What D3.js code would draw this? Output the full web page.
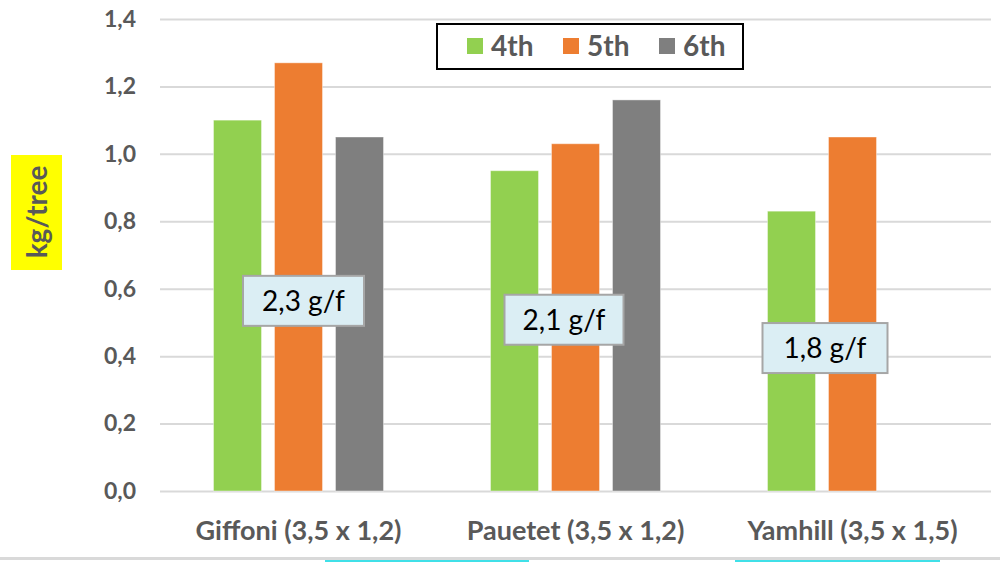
<!DOCTYPE html>
<html>
<head>
<meta charset="utf-8">
<script src="https://cdn.jsdelivr.net/npm/d3@7"></script>
<style>
  body { margin: 0; background: #fff; overflow: hidden; }
  svg { display: block; }
  text { font-family: Lato, "Open Sans", sans-serif; }
</style>
</head>
<body>
<svg id="chart"></svg>
<script>
// data
const categories = ["Giffoni (3,5 x 1,2)", "Pauetet (3,5 x 1,2)", "Yamhill (3,5 x 1,5)"];
const seriesNames = ["4th", "5th", "6th"];
const values4th = [1.10, 0.95, 0.83];
const values5th = [1.27, 1.03, 1.05];
const values6th = [1.05, 1.16, null];
const yTicks = [0, 0.2, 0.4, 0.6, 0.8, 1.0, 1.2, 1.4];
const noteLabels = ["2,3 g/f", "2,1 g/f", "1,8 g/f"];

const colors = { "4th": "#92d050", "5th": "#ed7d31", "6th": "#7f7f7f" };
const width = 1000;
const height = 562;

// where the note boxes sit: x offset from the group centre, y as a value
const noteLayout = [
    { dx: 5, v: 0.564, w: 121 },
    { dx: -11.5, v: 0.508, w: 119 },
    { dx: -27.5, v: 0.424, w: 125 }
];

const svg = d3.select('#chart')
    .attr('width', width).attr('height', height);

const x0 = d3.scaleBand().domain(categories).range([160, 991]).padding(0);
const x1 = d3.scaleBand().domain(seriesNames).range([-85, 85]).paddingInner(13 / 61);
const y = d3.scaleLinear().domain([0, 1.4]).range([491, 19]);

const fmt = v => d3.format('.1f')(v).replace('.', ',');

// gridlines + tick labels
const yAxis = d3.axisLeft(y)
    .tickValues(yTicks)
    .tickSize(-(991 - 160))
    .tickPadding(24)
    .tickFormat(fmt);

const gy = svg.append('g')
    .attr('transform', 'translate(160,0)')
    .call(yAxis);
gy.select('.domain').remove();
gy.selectAll('.tick line')
    .attr('stroke', '#d9d9d9')
    .attr('stroke-width', 2);
gy.selectAll('.tick text')
    .attr('fill', '#595959')
    .attr('font-size', 23)
    .attr('font-weight', 'bold');

// bars
const rows = seriesNames.map((s, i) => ({
    name: s,
    values: [values4th, values5th, values6th][i]
}));

const bars = [];
rows.forEach(r => {
    r.values.forEach((v, j) => {
        if (v !== null) bars.push({ series: r.name, cat: categories[j], value: v });
    });
});

svg.append('g').selectAll('rect')
    .data(bars)
    .enter().append('rect')
    .attr('x', d => x0(d.cat) + x0.bandwidth() / 2 + x1(d.series))
    .attr('y', d => y(d.value))
    .attr('width', x1.bandwidth())
    .attr('height', d => y(0) - y(d.value))
    .attr('fill', d => colors[d.series])
    .attr('stroke', '#fff')
    .attr('stroke-opacity', 0.4)
    .attr('stroke-width', 1);

// category labels
const xAxis = d3.axisBottom(x0).tickSize(0).tickPadding(30);
const gx = svg.append('g')
    .attr('transform', 'translate(0,' + y(0) + ')')
    .call(xAxis);
gx.select('.domain').remove();
gx.selectAll('.tick text')
    .attr('fill', '#595959')
    .attr('font-size', 27)
    .attr('font-weight', 'bold');

// note boxes
noteLabels.forEach((t, i) => {
    const L = noteLayout[i];
    const cx = x0(categories[i]) + x0.bandwidth() / 2 + L.dx;
    const cy = y(L.v);
    const g = svg.append('g').attr('transform', 'translate(' + cx + ',' + cy + ')');
    g.append('rect')
        .attr('x', -L.w / 2).attr('y', -25)
        .attr('width', L.w).attr('height', 50)
        .attr('fill', '#dbeef4')
        .attr('stroke', '#a6a6a6')
        .attr('stroke-width', 2);
    g.append('text')
        .attr('text-anchor', 'middle')
        .attr('dy', '0.36em')
        .attr('font-size', 28)
        .attr('fill', '#000')
        .text(t);
});

// legend
const legend = svg.append('g');
legend.append('rect')
    .attr('x', 437).attr('y', 24)
    .attr('width', 306).attr('height', 45)
    .attr('fill', '#fff')
    .attr('stroke', '#000')
    .attr('stroke-width', 2);
const legendX = [467, 563, 659];
seriesNames.forEach((s, i) => {
    legend.append('rect')
        .attr('x', legendX[i]).attr('y', 38)
        .attr('width', 16).attr('height', 16)
        .attr('fill', colors[s]);
    legend.append('text')
        .attr('x', legendX[i] + 24).attr('y', 46)
        .attr('dy', '0.36em')
        .attr('font-size', 28)
        .attr('font-weight', 'bold')
        .attr('fill', '#595959')
        .text(s);
});

// y axis title
svg.append('rect')
    .attr('x', 11).attr('y', 155)
    .attr('width', 51).attr('height', 115)
    .attr('fill', '#ffff00');
svg.append('text')
    .attr('transform', 'translate(37,212) rotate(-90)')
    .attr('text-anchor', 'middle')
    .attr('dy', '0.36em')
    .attr('font-size', 28)
    .attr('font-weight', 'bold')
    .attr('fill', '#595959')
    .text('kg/tree');

// bottom edge line
svg.append('rect')
    .attr('x', 0).attr('y', 557)
    .attr('width', width).attr('height', 3)
    .attr('fill', '#d9d9d9');
[[325, 529], [735, 940]].forEach(s => {
    svg.append('rect')
        .attr('x', s[0]).attr('y', 560)
        .attr('width', s[1] - s[0]).attr('height', 2)
        .attr('fill', '#40e0e8');
});
</script>
</body>
</html>
